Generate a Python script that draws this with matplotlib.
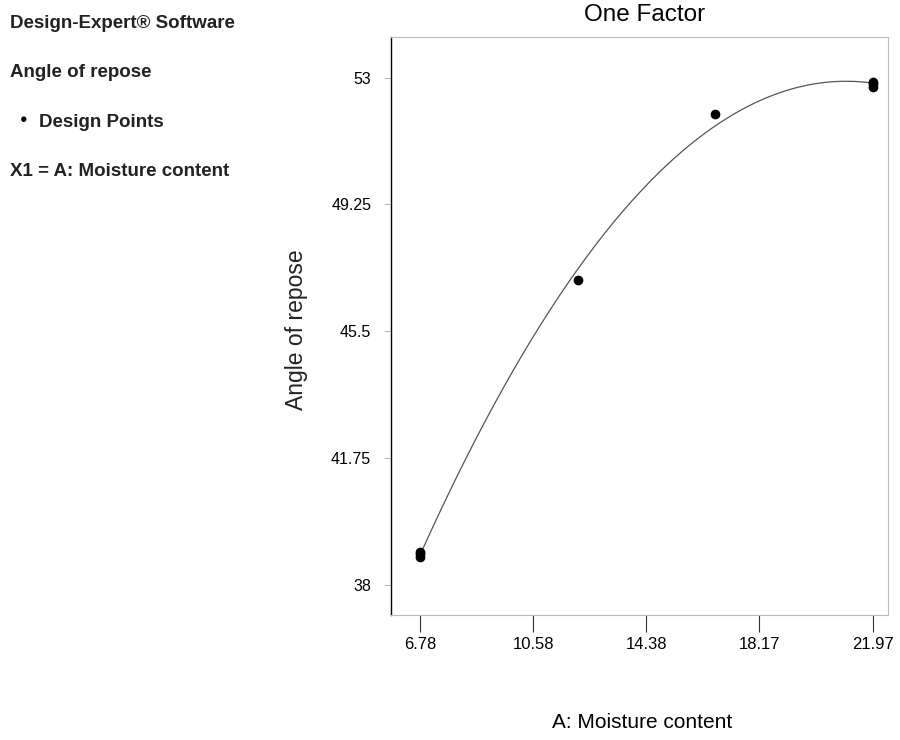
import numpy as np
import matplotlib.pyplot as plt

plt.rcParams['font.family'] = ['Liberation Sans', 'DejaVu Sans']

# design points (replicates at the ends)
moisture = [6.78, 6.78, 6.78, 12.1, 16.68, 21.97, 21.97, 21.97]
repose = [38.82, 38.9, 38.96, 47.0, 51.92, 52.72, 52.8, 52.88]

x_ticks = [6.78, 10.58, 14.38, 18.17, 21.97]
x_labels = ['6.78', '10.58', '14.38', '18.17', '21.97']
y_ticks = [38, 41.75, 45.5, 49.25, 53]
y_labels = ['38', '41.75', '45.5', '49.25', '53']

fig = plt.figure(figsize=(9, 7.4), dpi=100)
ax = fig.add_axes([0.434, 0.169, 0.553, 0.781])

# quadratic model fitted to the design points
coef = np.polyfit(moisture, repose, 2)
xs = np.linspace(6.78, 21.97, 200)
ax.plot(xs, np.polyval(coef, xs), color='#555555', lw=0.9)
ax.plot(moisture, repose, 'o', color='black', ms=7, mew=0)

ax.set_xlim(5.8, 22.5)
ax.set_ylim(37.1, 54.2)
ax.set_xticks(x_ticks)
ax.set_xticklabels(x_labels, fontsize=12)
ax.set_yticks(y_ticks)
ax.set_yticklabels(y_labels, fontsize=11.5)
ax.tick_params(axis='x', length=12, pad=4, direction='out', color='#333333')
ax.tick_params(axis='y', length=5, pad=9, color='#bbbbbb')

for s in ['top', 'right', 'bottom']:
    ax.spines[s].set_color('#bbbbbb')
    ax.spines[s].set_linewidth(0.8)
ax.spines['left'].set_color('black')
ax.spines['left'].set_linewidth(1)

fig.text(0.716, 0.98, 'One Factor', fontsize=17.5, ha='center', va='center')
fig.text(0.33, 0.554, 'Angle of repose', fontsize=16.5, rotation=90,
         ha='center', va='center', color='#222222')
fig.text(0.714, 0.024, 'A: Moisture content', fontsize=15, ha='center', va='center')

# Design-Expert side panel
side = dict(fontsize=13.5, fontweight='bold', va='center', color='#222222')
fig.text(0.011, 0.968, 'Design-Expert\u00ae Software', **side)
fig.text(0.011, 0.902, 'Angle of repose', **side)
fig.text(0.022, 0.838, '\u25cf', fontsize=9, va='center')
fig.text(0.043, 0.834, 'Design Points', **side)
fig.text(0.011, 0.768, 'X1 = A: Moisture content', **side)

fig.savefig('out.png', dpi=100)
